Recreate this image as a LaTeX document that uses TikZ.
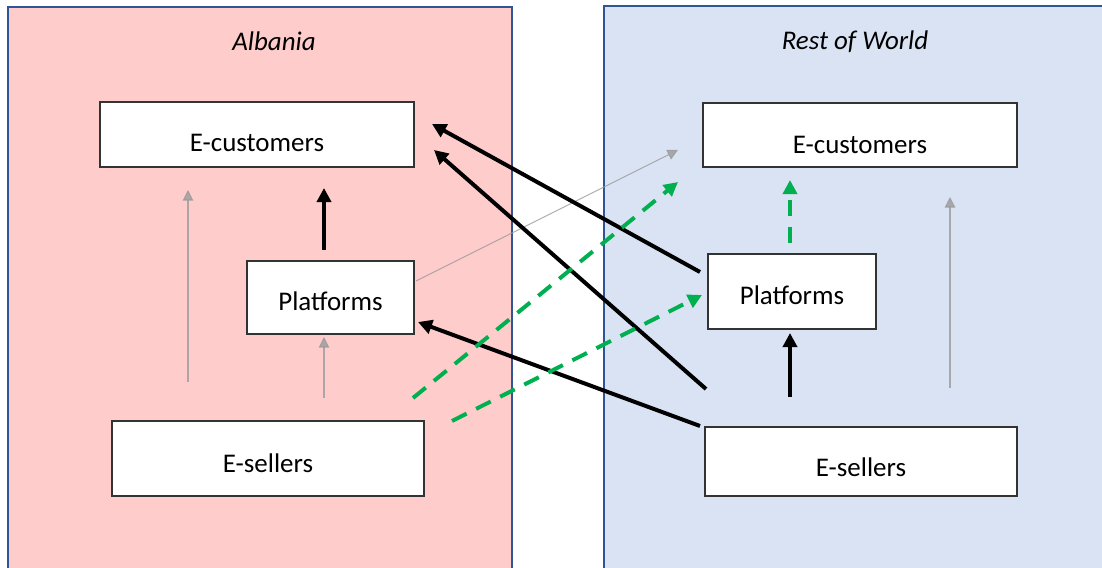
\documentclass[tikz,border=0pt]{standalone}
\usepackage{fontspec}
\setmainfont{Carlito}
\usetikzlibrary{arrows.meta}
\definecolor{pinkbg}{HTML}{FFCCCC}
\definecolor{bluebg}{HTML}{DAE3F3}
\definecolor{panelline}{HTML}{2F5597}
\definecolor{greencol}{HTML}{00B050}
\definecolor{graycol}{HTML}{9A9A9A}
\tikzset{
  panel/.style={draw=panelline, line width=1.3pt},
  entity/.style={draw=black!80, fill=white, line width=0.9pt, inner sep=0pt},
  lab/.style={font=\fontsize{23}{27}\selectfont},
  title/.style={font=\fontsize{23}{27}\selectfont\itshape},
  thickarr/.style={line width=3.4pt, -{Triangle[length=12pt,width=12pt]}},
  greendash/.style={greencol, line width=3.4pt, dash pattern=on 14pt off 9pt, -{Triangle[length=12pt,width=12pt]}},
  thinarr/.style={graycol, draw opacity=0.8, fill opacity=0.8, line width=0.9pt, -{Triangle[length=9pt,width=9pt]}},
}
\begin{document}
\begin{tikzpicture}[x=0.03cm, y=-0.03cm]
\useasboundingbox (0,0) rectangle (1102,568);
% panels
\path[fill=pinkbg] (8,7) rectangle (512,575);
\draw[panel] (8,575) -- (8,7) -- (512,7) -- (512,575);
\path[fill=bluebg] (604,6) rectangle (1110,575);
\draw[panel] (604,575) -- (604,6) -- (1110,6);
\node[title] (tA) at (274,41) {Albania};
\node[title] (tR) at (855,42) {Rest of World};
% entities
\node[entity, minimum width=9.42cm, minimum height=1.95cm, label={[lab,yshift=-7pt]center:E-customers}] (aC) at (257,134.5) {};
\node[entity, minimum width=5.01cm, minimum height=2.19cm, label={[lab,yshift=-3pt]center:Platforms}] (aP) at (330.5,297.5) {};
\node[entity, minimum width=9.36cm, minimum height=2.25cm, label={[lab,yshift=-4pt]center:E-sellers}] (aS) at (268,458.5) {};
\node[entity, minimum width=9.42cm, minimum height=1.92cm, label={[lab,yshift=-8.5pt]center:E-customers}] (rC) at (860,135) {};
\node[entity, minimum width=5.04cm, minimum height=2.25cm, label={[lab,yshift=-3pt]center:Platforms}] (rP) at (792,291.5) {};
\node[entity, minimum width=9.36cm, minimum height=2.07cm, label={[lab,yshift=-4.7pt]center:E-sellers}] (rS) at (861,461.5) {};
% endpoints
\coordinate (a1s) at (188,382); \coordinate (a1e) at (188,190);
\coordinate (a2s) at (324,398); \coordinate (a2e) at (324,337);
\coordinate (a3s) at (324,250); \coordinate (a3e) at (324,188);
\coordinate (r1s) at (950,388); \coordinate (r1e) at (950,197);
\coordinate (r2s) at (790,397); \coordinate (r2e) at (790,333);
\coordinate (r3s) at (790,243); \coordinate (r3e) at (790,180);
\coordinate (x1s) at (700,272); \coordinate (x1e) at (432,124);
\coordinate (x2s) at (706,389); \coordinate (x2e) at (434,150);
\coordinate (x3s) at (700,426); \coordinate (x3e) at (418,322);
\coordinate (g1s) at (416,281); \coordinate (g1e) at (678,150);
\coordinate (d1s) at (413,398); \coordinate (d1e) at (678,182);
\coordinate (d2s) at (452,421); \coordinate (d2e) at (702,295);
% arrows
\draw[thinarr] (a1s) -- (a1e);
\draw[thinarr] (a2s) -- (a2e);
\draw[thickarr] (a3s) -- (a3e);
\draw[thinarr] (r1s) -- (r1e);
\draw[thickarr] (r2s) -- (r2e);
\draw[greendash] (r3s) -- (r3e);
\draw[thinarr] (g1s) -- (g1e);
\draw[thickarr] (x1s) -- (x1e);
\draw[thickarr] (x2s) -- (x2e);
\draw[thickarr] (x3s) -- (x3e);
\draw[greendash] (d1s) -- (d1e);
\draw[greendash] (d2s) -- (d2e);
\end{tikzpicture}
\end{document}
